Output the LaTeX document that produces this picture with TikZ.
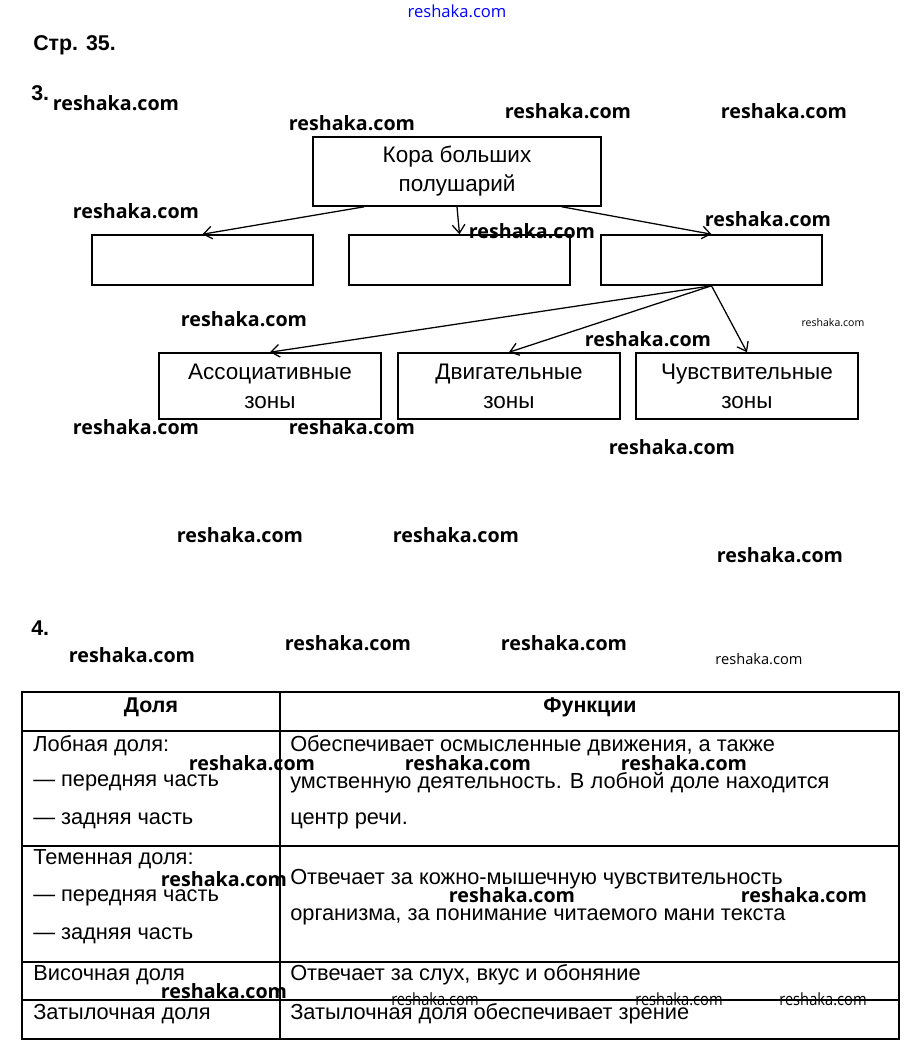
\documentclass[tikz,border=0pt]{standalone}
\usepackage{fontspec}
\setmainfont{Liberation Sans}
\newfontfamily\wmfont{Open Sans}
\usetikzlibrary{arrows.meta,calc}

\begin{document}
\begin{tikzpicture}[x=0.025cm,y=-0.025cm,
  box/.style={draw,line width=1.1pt,align=center,inner sep=0pt,font=\fontsize{16}{20.6}\selectfont},
  arr/.style={-{Straight Barb[length=6pt,width=9pt]},line width=0.9pt},
  txt/.style={anchor=west,inner sep=0pt,font=\fontsize{15.5}{17}\selectfont},
  head/.style={inner sep=0pt,font=\bfseries\fontsize{15.2}{17}\selectfont},
  wm/.style={inner sep=0pt,font=\wmfont\bfseries\fontsize{14}{16}\selectfont},
  wmsmall/.style={inner sep=0pt,font=\wmfont\fontsize{7.5}{9}\selectfont}]
\useasboundingbox[fill=white] (0,0) rectangle (912,1052);

\node[anchor=west,head] (page) at (33,45) {Стр. 35.};
\node[anchor=west,head] (task3) at (31,93) {3.};
\node[anchor=west,head] (task4) at (31,628) {4.};

% scheme
\node[box,minimum width=7.2cm,minimum height=1.725cm] (kora) at (457,171.5) {Кора больших\\полушарий};
\node[box,minimum width=5.525cm,minimum height=1.25cm] (mid1) at (202.5,260) {};
\node[box,minimum width=5.525cm,minimum height=1.25cm] (mid2) at (459.5,260) {};
\node[box,minimum width=5.525cm,minimum height=1.25cm] (mid3) at (711.5,260) {};
\node[box,minimum width=5.55cm,minimum height=1.65cm] (low1) at (270,386) {Ассоциативные\\зоны};
\node[box,minimum width=5.55cm,minimum height=1.65cm] (low2) at (509,386) {Двигательные\\зоны};
\node[box,minimum width=5.55cm,minimum height=1.65cm] (low3) at (747,386) {Чувствительные\\зоны};

\draw[arr] ($(kora.south west)+(52,0)$) -- (mid1.north);
\draw[arr] (kora.south) -- (mid2.north);
\draw[arr] ($(kora.south east)+(-40,0)$) -- (mid3.north);
\draw[arr] (mid3.south) -- (low1.north);
\draw[arr] (mid3.south) -- (low2.north);
\draw[arr] (mid3.south) -- (low3.north);

% table
\draw[line width=0.8pt] (22,692) rectangle (899,1039);
\draw[line width=0.8pt] (280,692) -- (280,1039);
\foreach \y in {731,846,962,1000}
  \draw[line width=0.8pt] (22,\y) -- (899,\y);

\node[head] (hdol) at (151,707) {Доля};
\node[head] (hfun) at (590,707) {Функции};

\node[txt] (l1a) at (33,746) {Лобная доля:};
\node[txt] (l1b) at (33,783) {— передняя часть};
\node[txt] (l1c) at (33,821) {— задняя часть};
\node[txt] (r1a) at (290,746) {Обеспечивает осмысленные движения, а также};
\node[txt] (r1b) at (290,783) {умственную деятельность. В лобной доле находится};
\node[txt] (r1c) at (290,821) {центр речи.};

\node[txt] (l2a) at (33,859) {Теменная доля:};
\node[txt] (l2b) at (33,898) {— передняя часть};
\node[txt] (l2c) at (33,936) {— задняя часть};
\node[txt] (r2a) at (290,879) {Отвечает за кожно-мышечную чувствительность};
\node[txt] (r2b) at (290,917) {организма, за понимание читаемого мани текста};

\node[txt] (l3) at (33,975) {Височная доля};
\node[txt] (r3) at (290,975) {Отвечает за слух, вкус и обоняние};
\node[txt] (l4) at (33,1014) {Затылочная доля};
\node[txt] (r4) at (290,1014) {Затылочная доля обеспечивает зрение};

% watermarks
\node[inner sep=0pt,text=blue,font=\wmfont\fontsize{11.8}{13}\selectfont] (wm0) at (457,11) {reshaka.com};
\foreach \x/\y [count=\i] in {116/103,568/111,784/111,352/123,136/211,532/231,768/219,244/319,
  648/339,136/427,352/427,672/447,240/535,456/535,780/555,132/655,348/643,564/643,
  252/763,468/763,684/763,224/879,512/895,804/895,224/991}
  \node[wm] (wm\i) at (\x,\y) {reshaka.com};
\node[wmsmall] (ws1) at (833,323) {reshaka.com};
\node[wmsmall,font=\wmfont\fontsize{10.4}{12}\selectfont] (ws2) at (759,659) {reshaka.com};
\foreach \x/\y [count=\i from 3] in {435/999,679/999,823/999}
  \node[wmsmall,xscale=0.87,font=\wmfont\fontsize{12}{13}\selectfont] (ws\i) at (\x,\y) {reshaka.com};
\end{tikzpicture}
\end{document}
